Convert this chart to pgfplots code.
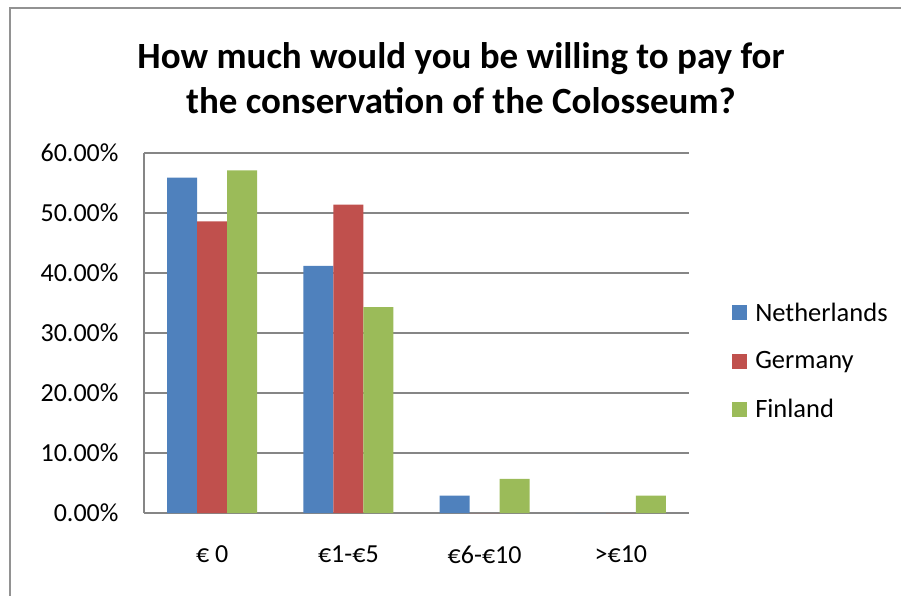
\documentclass[border=0pt]{standalone}
\usepackage{pgfplots}
\pgfplotsset{compat=1.18}
\usepackage{fontspec}
\setmainfont{Carlito}
\definecolor{nlblue}{HTML}{4F81BD}
\definecolor{dered}{HTML}{C0504D}
\definecolor{figreen}{HTML}{9BBB59}
\definecolor{gridgray}{HTML}{868686}
\begin{document}
\begin{tikzpicture}
\useasboundingbox (0pt,0pt) rectangle (901pt,595pt);
\draw[gridgray!90, line width=2pt] (10pt,-2pt) -- (10pt,587pt) -- (903pt,587pt);
\node[font=\fontsize{37}{45}\selectfont\bfseries, align=center] at (461pt,517pt) {How much would you be willing to pay for\\the conservation of the Colosseum?};
\begin{axis}[
  at={(144pt,82pt)}, anchor=south west,
  scale only axis,
  width=545pt, height=360pt,
  ybar=0pt, bar width=30pt,
  xmin=-0.5, xmax=3.5,
  ymin=0, ymax=60,
  xtick={0,1,2,3},
  xticklabels={€ 0, €1-€5, €6-€10, >€10},
  ytick={0,10,...,60},
  yticklabel={\pgfmathprintnumber[fixed,fixed zerofill,precision=2]{\tick}\%},
  /pgf/number format/assume math mode=true,
  major tick length=0pt,
  ymajorgrids,
  grid style={gridgray, line width=1.5pt},
  axis line style={gridgray, line width=1.5pt},
  axis x line*=bottom, axis y line*=left,
  ticklabel style={font=\fontsize{26}{30}\selectfont},
  yticklabel style={xshift=-22pt},
  xticklabel style={yshift=-29pt},
  legend style={draw=none, at={(1.079,0.422)}, anchor=west, inner sep=0pt,
    font=\fontsize{26.5}{30}\selectfont, row sep=25pt, cells={anchor=west}},
  legend image code/.code={\fill[#1] (0pt,-7.5pt) rectangle (15pt,7.5pt); \path (21pt,0pt);},
  every axis plot/.append style={draw=none},
]
\addplot[fill=nlblue] coordinates {(0,55.9) (1,41.2) (2,2.9) (3,0)};
\addplot[fill=dered] coordinates {(0,48.6) (1,51.4) (2,0) (3,0)};
\addplot[fill=figreen] coordinates {(0,57.1) (1,34.3) (2,5.7) (3,2.9)};
\legend{Netherlands, Germany, Finland}
\end{axis}
\end{tikzpicture}
\end{document}
